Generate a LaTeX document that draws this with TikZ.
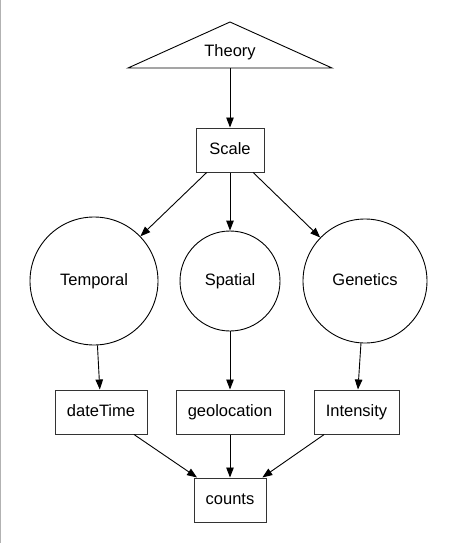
\documentclass[tikz,border=0pt]{standalone}
\usepackage{fontspec}
\setmainfont{Liberation Sans}
\usetikzlibrary{arrows.meta}

\begin{document}
\begin{tikzpicture}[x=1pt,y=-1pt,
  every node/.style={font=\fontsize{16.5}{19}\selectfont,text height=11.5pt,text depth=3pt},
  box/.style={draw=black!80,line width=1pt,minimum width=#1,minimum height=44,inner sep=0},
  ball/.style={draw,line width=0.9pt,circle,minimum size=#1,inner sep=0},
  arr/.style={line width=0.9pt,-{Triangle[length=10pt,width=7.5pt]}}]
\useasboundingbox (0,0) rectangle (451,543);
\draw[black!30,line width=1.2pt] (0.6,0) -- (0.6,543);

% theory
\draw[line width=0.9pt] (128,68) -- (230,22) -- (332,68) -- cycle;
\node (theory) at (230,52.5) {Theory};
\coordinate (theorybase) at (230,68);

% scale and the three circles
\node[box=68] (scale) at (230,150) {Scale};
\node[ball=128] (temporal) at (94,281) {Temporal};
\node[ball=100] (spatial) at (230,281) {Spatial};
\node[ball=124] (genetics) at (365,281) {Genetics};

% variables
\node[box=92] (datetime) at (101,412) {dateTime};
\node[box=108] (geoloc) at (230,412) {geolocation};
\node[box=85] (intensity) at (356.5,412) {Intensity};
\node[box=72] (counts) at (230,500) {counts};

\draw[arr] (theorybase) -- (scale);
\foreach \n in {temporal,spatial,genetics} \draw[arr] (scale) -- (\n);
\draw[arr] (temporal) -- (datetime);
\draw[arr] (spatial) -- (geoloc);
\draw[arr] (genetics) -- (intensity);
\foreach \n in {datetime,geoloc,intensity} \draw[arr] (\n) -- (counts);

\end{tikzpicture}
\end{document}
